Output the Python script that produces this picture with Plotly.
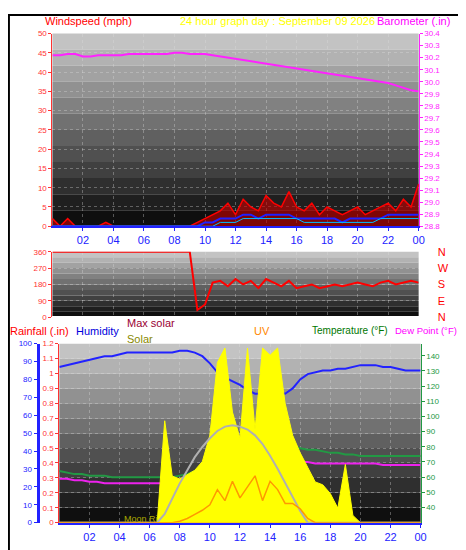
import plotly.graph_objects as go

# half-hour steps, 0:00 -> 24:00
hours = [i * 0.5 for i in range(49)]

#Top panel
wind_gust = [2, 0, 2, 0, 0, 0, 0, 1, 0, 0, 0, 0, 0, 0, 0, 0, 0, 0, 0, 1, 2, 3, 4, 6, 3, 7, 5, 4, 8, 6, 5, 9, 5, 4, 6, 3, 5, 4, 3, 4, 5, 3, 4, 5, 6, 4, 7, 5, 11]
wind_avg = [0, 0, 0, 0, 0, 0, 0, 0, 0, 0, 0, 0, 0, 0, 0, 0, 0, 0, 0, 0, 1, 1, 2, 2, 2, 3, 3, 2, 3, 3, 3, 3, 2, 2, 2, 2, 2, 2, 1, 2, 2, 2, 2, 2, 3, 3, 3, 3, 3]
wind_mean = [0, 0, 0, 0, 0, 0, 0, 0, 0, 0, 0, 0, 0, 0, 0, 0, 0, 0, 0, 0, 0, 0, 1, 1, 1, 2, 2, 2, 2, 2, 2, 2, 2, 1, 1, 1, 1, 1, 1, 1, 1, 1, 1, 2, 2, 2, 2, 2, 2]
barometer = [30.22, 30.22, 30.23, 30.23, 30.21, 30.21, 30.22, 30.22, 30.22, 30.22, 30.23, 30.23, 30.23, 30.23, 30.23, 30.23, 30.24, 30.24, 30.23, 30.23, 30.23, 30.22, 30.21, 30.20, 30.19, 30.18, 30.17, 30.16, 30.15, 30.14, 30.13, 30.12, 30.11, 30.10, 30.09, 30.08, 30.07, 30.06, 30.05, 30.04, 30.03, 30.02, 30.01, 30.00, 29.99, 29.97, 29.95, 29.93, 29.92]

#Middle panel
wind_dir = [360] * 19 + [40, 70, 190, 200, 170, 210, 180, 200, 160, 210, 190, 170, 200, 160, 170, 180, 160, 170, 180, 170, 180, 190, 180, 170, 190, 200, 180, 190, 200, 190]

#Bottom panel
humidity = [87, 88, 89, 90, 91, 92, 93, 93, 94, 95, 95, 95, 95, 95, 95, 95, 96, 96, 95, 93, 89, 84, 81, 79, 77, 74, 72, 72, 72, 73, 72, 75, 80, 83, 84, 85, 85, 86, 86, 87, 88, 88, 88, 87, 87, 86, 85, 85, 85]
rainfall = [0] * 49
temperature = [64, 63, 62, 62, 61, 61, 61, 60, 60, 60, 60, 60, 60, 60, 60, 60, 61, 62, 64, 66, 68, 70, 72, 74, 75, 77, 79, 79, 79, 80, 80, 80, 79, 78, 78, 77, 76, 76, 75, 75, 74, 74, 74, 74, 74, 74, 74, 74, 74]
dew_point = [59, 59, 58, 58, 57, 57, 56, 56, 56, 56, 56, 56, 56, 56, 56, 57, 58, 59, 61, 63, 64, 66, 66, 67, 67, 68, 68, 68, 69, 70, 70, 70, 70, 70, 69, 69, 69, 69, 69, 69, 69, 69, 69, 68, 68, 68, 68, 68, 68]
solar = [0] * 13 + [0, 700, 320, 300, 330, 360, 420, 600, 1100, 1200, 760, 580, 1200, 640, 1200, 1150, 1200, 820, 600, 480, 380, 280, 260, 200, 100, 400, 50, 0, 0, 0, 0, 0, 0, 0, 0, 0]
max_solar = [0] * 13 + [0, 60, 170, 270, 360, 450, 520, 580, 630, 660, 670, 660, 640, 600, 540, 460, 370, 270, 170, 80, 0, 0, 0, 0, 0, 0, 0, 0, 0, 0, 0, 0, 0, 0, 0, 0]
uv = [0] * 16 + [0.1, 0.3, 0.6, 0.9, 1.3, 2.4, 1.6, 3.0, 1.8, 2.6, 3.4, 1.6, 3.0, 2.4, 1.4, 1.4, 1.0, 0.3, 0, 0] + [0] * 17
sunrise = 6.6
sunset = 19.1

x_ticks = [2, 4, 6, 8, 10, 12, 14, 16, 18, 20, 22, 24]
x_labels = ['02', '04', '06', '08', '10', '12', '14', '16', '18', '20', '22', '00']

W, H = 466, 550
def px(v):
    return v / W
def py(v):
    return 1 - v / H

fig = go.Figure()
font = 'Liberation Sans'

fig.add_trace(go.Scatter(x=hours, y=barometer, mode='lines', line=dict(color='#ff22ff', width=2), xaxis='x', yaxis='y2'))
fig.add_trace(go.Scatter(x=hours, y=wind_gust, mode='lines', line=dict(color='#ff0000', width=1.5), fill='tozeroy', fillcolor='rgba(200,0,0,0.6)', xaxis='x', yaxis='y'))
fig.add_trace(go.Scatter(x=hours, y=wind_avg, mode='lines', line=dict(color='#2020ff', width=2), xaxis='x', yaxis='y'))
fig.add_trace(go.Scatter(x=hours, y=wind_mean, mode='lines', line=dict(color='#00c0ff', width=1), xaxis='x', yaxis='y'))

fig.add_trace(go.Scatter(x=hours, y=wind_dir, mode='lines', line=dict(color='#ff0000', width=2), xaxis='x2', yaxis='y3'))

fig.add_trace(go.Scatter(x=hours, y=solar, mode='lines', line=dict(color='#ffff00', width=1), fill='tozeroy', fillcolor='#ffff00', xaxis='x3', yaxis='y7'))
fig.add_trace(go.Scatter(x=hours, y=max_solar, mode='lines', line=dict(color='#b0b0b0', width=2), xaxis='x3', yaxis='y7'))
fig.add_trace(go.Scatter(x=hours, y=uv, mode='lines', line=dict(color='#ff9900', width=1.5), xaxis='x3', yaxis='y8'))
fig.add_trace(go.Scatter(x=hours, y=humidity, mode='lines', line=dict(color='#2222ff', width=2), xaxis='x3', yaxis='y5'))
fig.add_trace(go.Scatter(x=hours, y=temperature, mode='lines', line=dict(color='#229944', width=2), xaxis='x3', yaxis='y6'))
fig.add_trace(go.Scatter(x=hours, y=dew_point, mode='lines', line=dict(color='#ee22ee', width=2), xaxis='x3', yaxis='y6'))
fig.add_trace(go.Scatter(x=[sunrise, sunset], y=[0, 0], mode='lines', line=dict(color='#ff0000', width=3), xaxis='x3', yaxis='y4'))
fig.add_trace(go.Scatter(x=[0, 24], y=[0, 0], mode='lines', line=dict(color='#ffcc44', width=2), xaxis='x3', yaxis='y4'))
for t in (sunrise, sunset):
    fig.add_trace(go.Scatter(x=[t, t], y=[0, 0.08], mode='lines', line=dict(color='#cccc00', width=1, dash='dot'), xaxis='x3', yaxis='y4'))

# gray gradient backgrounds
shapes = []
panels = [(45, 416, 20, 217), (45, 416, 243, 310), (52, 418, 337, 520)]
n = 12
for x0, x1, y0, y1 in panels:
    for i in range(n):
        g = int(195 - 180 * i / (n - 1))
        shapes.append(dict(type='rect', xref='paper', yref='paper', layer='below', line=dict(width=0),
                           x0=px(x0), x1=px(x1), y0=py(y0 + (y1 - y0) * i / n), y1=py(y0 + (y1 - y0) * (i + 1) / n),
                           fillcolor='rgb(%d,%d,%d)' % (g, g, g)))
shapes.append(dict(type='rect', xref='paper', yref='paper', x0=0.002, x1=0.998, y0=0.002, y1=0.998, line=dict(color='black', width=2)))

grid = dict(showgrid=True, gridcolor='rgba(220,220,220,0.35)', griddash='dot', zeroline=False)
small = dict(size=8, family=font)
xcommon = dict(range=[0, 24], tickvals=x_ticks, ticktext=x_labels, tickfont=dict(color='#2222ff', size=11, family=font),
               ticks='outside', ticklen=3, tickcolor='#2222ff', showline=True, linecolor='#2222ff', linewidth=2, **grid)

fig.update_layout(
    width=W, height=H, margin=dict(l=0, r=0, t=0, b=0),
    paper_bgcolor='white', plot_bgcolor='rgba(0,0,0,0)', showlegend=False, shapes=shapes,
    font=dict(family=font, size=8),
    xaxis=dict(domain=[px(45), px(416)], anchor='y', **xcommon),
    xaxis2=dict(domain=[px(45), px(416)], anchor='y3', range=[0, 24], tickvals=x_ticks, showticklabels=False, **grid),
    xaxis3=dict(domain=[px(52), px(418)], anchor='y4', **xcommon),
    yaxis=dict(domain=[py(217), py(20)], range=[0, 50], dtick=5, tickfont=dict(color='#ff3333', **small), ticks='outside', ticklen=3,
               tickcolor='#ff3333', showline=True, linecolor='#ff3333', **grid),
    yaxis2=dict(overlaying='y', side='right', anchor='x', range=[28.8, 30.4], dtick=0.1, tickformat='.1f',
                tickfont=dict(color='#ff22ff', **small), ticks='outside', ticklen=3, tickcolor='#ff22ff', showline=True, linecolor='#ff22ff', showgrid=False),
    yaxis3=dict(domain=[py(310), py(243)], anchor='x2', range=[0, 360], tickvals=[0, 90, 180, 270, 360],
                tickfont=dict(color='#ff3333', **small), ticks='outside', ticklen=3, tickcolor='#ff3333', showline=True, linecolor='#ff3333', **grid),
    yaxis9=dict(overlaying='y3', side='right', anchor='x2', range=[0, 360], tickvals=[0, 90, 180, 270, 360],
                ticktext=['N', 'E', 'S', 'W', 'N'], tickfont=dict(color='#ff0000', size=11, family=font),
                ticks='outside', ticklen=16, tickcolor='rgba(0,0,0,0)', showgrid=False),
    yaxis4=dict(domain=[py(520), py(337)], anchor='x3', range=[0, 1.2], dtick=0.1, tickformat='.1~f',
                tickfont=dict(color='#ff3333', **small), ticks='outside', ticklen=3, tickcolor='#ff3333', showline=True, linecolor='#ff3333', **grid),
    yaxis5=dict(overlaying='y4', anchor='free', position=px(30), side='left', range=[0, 100], dtick=10,
                tickfont=dict(color='#2222ff', **small), ticks='outside', ticklen=3, tickcolor='#2222ff', showline=True, linecolor='#2222ff', linewidth=3, showgrid=False),
    yaxis6=dict(overlaying='y4', side='right', anchor='x3', range=[30, 148], tickvals=[40, 50, 60, 70, 80, 90, 100, 110, 120, 130, 140],
                tickfont=dict(color='#229944', **small), ticks='outside', ticklen=3, tickcolor='#229944', showline=True, linecolor='#229944', showgrid=False),
    yaxis7=dict(overlaying='y4', range=[0, 1230], visible=False),
    yaxis8=dict(overlaying='y4', range=[0, 13], visible=False),
)
fig.add_trace(go.Scatter(x=[0], y=[0], xaxis='x2', yaxis='y9', mode='markers', marker=dict(opacity=0)))

def label(text, x, y, color, size=11, anchor='left'):
    fig.add_annotation(text=text, x=px(x), y=py(y), xref='paper', yref='paper', showarrow=False,
                       xanchor=anchor, yanchor='middle', font=dict(color=color, size=size, family=font))

label('Windspeed (mph)', 35, 7, '#ff0000')
label('24 hour graph day : September 09 2026', 172, 7, '#ffff00')
label('Barometer (.in)', 372, 7, '#ff00ff')
label('Rainfall (.in)', 0, 324, '#ff0000')
label('Humidity', 67, 324, '#0000dd')
label('Max solar', 119, 316, '#990033')
label('Solar', 119, 332, '#888800')
label('UV', 247, 324, '#ff8800')
label('Temperature (°F)', 306, 324, '#007700', size=10)
label('Dew Point (°F)', 390, 324, '#ff00ff', size=9.5)
label('Moon Ri', 115, 516, '#aaaa00', size=9)

fig.write_html("out.html")
